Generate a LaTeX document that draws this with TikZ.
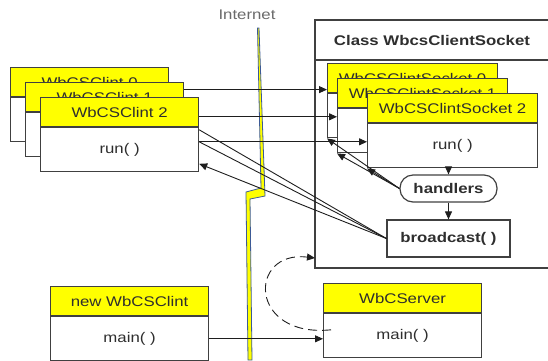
\documentclass[tikz,border=0pt]{standalone}
\usepackage{fontspec}
\setmainfont{Liberation Sans}[FakeStretch=1.2]
\usepackage{xcolor}
\usetikzlibrary{positioning,arrows.meta}
\definecolor{box-yellow}{HTML}{FFFF00}
\definecolor{box-line}{HTML}{404040}
\definecolor{line-dark}{HTML}{1E1E1E}
\definecolor{text-gray}{HTML}{2E2E2E}
\definecolor{net-blue}{HTML}{3C5A96}
\definecolor{label-gray}{HTML}{6A6A6A}
\pgfdeclarelayer{front}
\pgfsetlayers{main,front}

\begin{document}
\begin{tikzpicture}[x=1pt, y=-1pt,
    every node/.style={font=\fontsize{14}{16}\selectfont, text=text-gray, inner sep=0pt},
    hdr/.style={draw=box-line, line width=1.2pt, fill=box-yellow,
      minimum width=#1, minimum height=29pt, anchor=north west},
    hdr/.default=158pt,
    body/.style={draw=box-line, line width=1.2pt, fill=white,
      minimum width=#1, minimum height=44pt},
    body/.default=158pt,
    boldtext/.style={font=\fontsize{14}{16}\selectfont\bfseries},
    arr/.style={draw=line-dark, line width=0.9pt, -{Triangle[length=8pt,width=7pt]}},
    wire/.style={draw=line-dark, line width=0.9pt}]
  \useasboundingbox (0,0) rectangle (548,360);

  % internet
  \node[text=label-gray] (inet) at (247,15) {Internet};
  \draw[draw=net-blue, fill=box-yellow, line width=0.8pt]
    (257.5,28) -- (261,188) -- (246,192) -- (248,360) -- (252,360)
    -- (250,199) -- (265,196) -- (259,28) -- cycle;

  % class WbcsClientSocket
  \coordinate (cls-nw) at (315,20);
  \coordinate (cls-sw) at (315,268);
  \draw[draw=box-line, line width=1.2pt] (556,20) -- (cls-nw) -- (cls-sw) -- (556,268);
  \draw[draw=box-line, line width=1.2pt] (315,60) -- (556,60);
  \node[boldtext] (cls) at (432,40) {Class WbcsClientSocket};

  \node[hdr=170pt] (s0h) at (327,63) {WbCSClintSocket 0};
  \node[body=170pt, below=0pt of s0h] (s0b) {};
  \node[hdr=170pt] (s1h) at (337,78) {WbCSClintSocket 1};
  \node[body=170pt, below=0pt of s1h] (s1b) {};
  \node[hdr=170pt] (s2h) at (367,93) {WbCSClintSocket 2};
  \node[body=170pt, below=0pt of s2h] (s2b) {run( )};

  \node[draw=box-line, line width=1.2pt, rounded corners=13pt, boldtext,
        minimum width=97pt, minimum height=27pt] (hand) at (448.5,188.5) {handlers};
  \node[draw=box-line, line width=1.2pt, boldtext,
        minimum width=123pt, minimum height=37pt] (bcast) at (448.5,238.5) {broadcast( )};

  % clients
  \begin{pgfonlayer}{front}
    \node[hdr] (c0h) at (10,67) {WbCSClint 0};
    \node[body, below=0pt of c0h] (c0b) {};
    \node[hdr] (c1h) at (25,82) {WbCSClint 1};
    \node[body, below=0pt of c1h] (c1b) {};
    \node[hdr] (c2h) at (40,97) {WbCSClint 2};
    \node[body, below=0pt of c2h] (c2b) {run( )};
  \end{pgfonlayer}

  \draw[arr] ([yshift=-7.5pt]c0h.east) -- ([yshift=-7.5pt]c0h.east -| s0h.west);
  \draw[arr] ([yshift=18pt]c1b.east) -- ([yshift=18pt]c1b.east -| s1b.west);
  \draw[arr] ([yshift=8pt]c2b.east) -- ([yshift=8pt]c2b.east -| s2b.west);

  \draw[wire] ([yshift=20pt]c2b.east) -- (bcast.west);
  \draw[wire] ([yshift=8pt]c2b.east) -- (bcast.west);
  \draw[arr] (bcast.west) -- ([yshift=-14pt]c2b.east);

  \draw[arr] (hand.north |- s2b.south) -- (hand.north);
  \draw[arr] (hand.south) -- (bcast.north);
  \draw[arr] (hand.west) -- (s0b.south west);
  \draw[arr] (hand.west) -- (s1b.south west);
  \draw[arr] (hand.west) -- (s2b.south west);

  % server side
  \node[hdr] (nwh) at (50,286) {new WbCSClint};
  \node[body, below=0pt of nwh] (nwb) {main( )};
  \node[hdr] (srvh) at (323,283) {WbCServer};
  \node[body, below=0pt of srvh] (srvb) {main( )};

  \draw[arr] (nwb.east) -- (nwb.east -| srvb.west);
  \draw[arr, dash pattern=on 9pt off 5pt] ([xshift=8pt,yshift=6pt]srvb.west)
    .. controls (248,338) and (248,250) .. ([yshift=10pt]cls-sw);
\end{tikzpicture}
\end{document}
